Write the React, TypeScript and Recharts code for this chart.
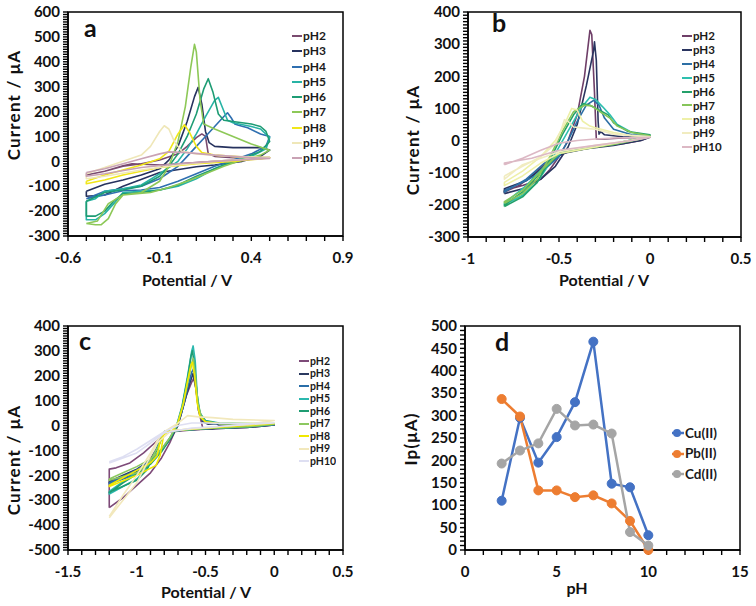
import React from 'react'
import { LineChart, Line, XAxis, YAxis, ReferenceArea, Legend } from 'recharts'

type Pt = [number, number]

// --- panel a (Cu(II)): [potential V, current uA], anodic sweep then return
const a_pH2: Pt[] = [[-0.5, -55], [-0.4, -40], [-0.3, -20], [-0.2, -10], [-0.1, 5], [0, 30], [0.05, 60], [0.1, 95], [0.13, 110], [0.15, 100], [0.165, 30], [0.2, 20], [0.3, 15], [0.4, 15], [0.5, 15], [0.45, 12], [0.3, 5], [0.1, -5], [-0.1, -15], [-0.25, -10], [-0.3, -18], [-0.4, -40], [-0.5, -55]]
const a_pH3: Pt[] = [[-0.5, -120], [-0.4, -92], [-0.3, -75], [-0.2, -55], [-0.1, -30], [-0.05, 5], [0, 60], [0.05, 160], [0.09, 260], [0.11, 297], [0.13, 230], [0.15, 120], [0.17, 75], [0.2, 60], [0.3, 55], [0.45, 55], [0.5, 45], [0.45, 20], [0.35, 0], [0.2, -15], [0.1, -22], [-0.1, -45], [-0.3, -100], [-0.4, -135], [-0.5, -140], [-0.5, -120]]
const a_pH4: Pt[] = [[-0.5, -150], [-0.4, -120], [-0.3, -110], [-0.2, -100], [-0.1, -70], [0, -20], [0.05, 20], [0.1, 60], [0.15, 100], [0.2, 140], [0.25, 180], [0.27, 195], [0.29, 175], [0.31, 150], [0.33, 145], [0.38, 135], [0.45, 110], [0.5, 100], [0.48, 60], [0.4, 30], [0.3, 5], [0.2, -20], [0.1, -50], [0, -80], [-0.1, -105], [-0.2, -115], [-0.3, -118], [-0.4, -135], [-0.5, -150]]
const a_pH5: Pt[] = [[-0.5, -160], [-0.45, -150], [-0.4, -120], [-0.3, -110], [-0.2, -95], [-0.1, -50], [0, 0], [0.05, 50], [0.1, 110], [0.15, 180], [0.2, 245], [0.22, 257], [0.24, 220], [0.27, 165], [0.3, 155], [0.4, 140], [0.45, 130], [0.5, 95], [0.48, 50], [0.4, 20], [0.3, 0], [0.2, -30], [0.1, -70], [0, -100], [-0.1, -115], [-0.2, -120], [-0.3, -125], [-0.35, -170], [-0.4, -210], [-0.45, -235], [-0.5, -235], [-0.5, -160]]
const a_pH6: Pt[] = [[-0.5, -160], [-0.4, -125], [-0.3, -115], [-0.2, -100], [-0.1, -60], [-0.05, -20], [0, 30], [0.05, 100], [0.1, 190], [0.14, 290], [0.165, 332], [0.19, 280], [0.22, 190], [0.25, 165], [0.3, 160], [0.4, 150], [0.45, 140], [0.48, 120], [0.5, 80], [0.45, 40], [0.35, 10], [0.25, -15], [0.1, -60], [0, -95], [-0.1, -115], [-0.2, -125], [-0.3, -130], [-0.35, -160], [-0.4, -200], [-0.45, -220], [-0.5, -220], [-0.5, -160]]
const a_pH7: Pt[] = [[-0.5, -250], [-0.45, -255], [-0.42, -255], [-0.38, -230], [-0.34, -170], [-0.3, -135], [-0.2, -125], [-0.1, -80], [-0.05, -20], [0, 80], [0.04, 220], [0.07, 380], [0.09, 470], [0.1, 440], [0.12, 250], [0.14, 150], [0.2, 130], [0.3, 100], [0.4, 70], [0.5, 45], [0.45, 25], [0.35, 5], [0.25, -20], [0.15, -50], [0.05, -80], [-0.05, -105], [-0.15, -125], [-0.3, -135], [-0.38, -170], [-0.44, -240], [-0.5, -250]]
const a_pH8: Pt[] = [[-0.5, -80], [-0.4, -55], [-0.3, -35], [-0.2, -15], [-0.1, 10], [-0.05, 40], [0, 110], [0.035, 147], [0.06, 120], [0.1, 60], [0.13, 35], [0.2, 25], [0.3, 20], [0.4, 15], [0.5, 15], [0.45, 10], [0.3, 0], [0.1, -10], [-0.1, -25], [-0.3, -55], [-0.4, -75], [-0.5, -90], [-0.5, -80]]
const a_pH9: Pt[] = [[-0.5, -50], [-0.4, -25], [-0.3, 0], [-0.2, 25], [-0.15, 60], [-0.1, 120], [-0.075, 143], [-0.05, 130], [-0.02, 80], [0.02, 40], [0.1, 30], [0.2, 25], [0.3, 20], [0.5, 15], [0.4, 10], [0.2, 0], [0, -15], [-0.2, -35], [-0.4, -60], [-0.5, -70], [-0.5, -50]]
const a_pH10: Pt[] = [[-0.5, -45], [-0.4, -30], [-0.3, -10], [-0.2, 10], [-0.1, 30], [-0.05, 38], [0.05, 35], [0.2, 25], [0.4, 15], [0.5, 12], [0.4, 8], [0.2, 0], [0, -10], [-0.2, -25], [-0.4, -50], [-0.5, -60], [-0.5, -45]]

// --- panel b (Pb(II))
const b_pH2: Pt[] = [[-0.8, -155], [-0.7, -140], [-0.6, -120], [-0.55, -90], [-0.5, -50], [-0.45, 0], [-0.4, 80], [-0.36, 200], [-0.33, 343], [-0.32, 330], [-0.305, 150], [-0.295, 5], [-0.25, 5], [-0.15, 8], [-0.05, 10], [0, 12], [-0.05, 0], [-0.15, -10], [-0.3, -20], [-0.45, -35], [-0.55, -60], [-0.65, -110], [-0.72, -140], [-0.8, -160], [-0.8, -155]]
const b_pH3: Pt[] = [[-0.8, -165], [-0.7, -150], [-0.6, -120], [-0.52, -80], [-0.45, -20], [-0.4, 50], [-0.35, 170], [-0.31, 280], [-0.305, 307], [-0.295, 250], [-0.285, 60], [-0.28, 20], [-0.27, 28], [-0.25, 18], [-0.15, 12], [-0.05, 10], [0, 10], [-0.05, 0], [-0.2, -15], [-0.35, -25], [-0.48, -40], [-0.58, -80], [-0.68, -125], [-0.8, -150], [-0.8, -165]]
const b_pH4: Pt[] = [[-0.8, -155], [-0.7, -130], [-0.6, -100], [-0.5, -50], [-0.45, 0], [-0.4, 60], [-0.35, 110], [-0.31, 125], [-0.28, 110], [-0.25, 70], [-0.2, 35], [-0.1, 18], [0, 15], [-0.05, 5], [-0.2, -12], [-0.35, -22], [-0.48, -35], [-0.58, -70], [-0.68, -120], [-0.8, -160], [-0.8, -155]]
const b_pH5: Pt[] = [[-0.8, -200], [-0.7, -170], [-0.62, -130], [-0.55, -70], [-0.48, 0], [-0.42, 60], [-0.38, 100], [-0.33, 135], [-0.3, 128], [-0.26, 105], [-0.22, 80], [-0.18, 50], [-0.1, 25], [0, 15], [-0.05, 8], [-0.2, -10], [-0.35, -22], [-0.48, -35], [-0.58, -80], [-0.68, -140], [-0.8, -195], [-0.8, -200]]
const b_pH6: Pt[] = [[-0.8, -205], [-0.7, -175], [-0.62, -130], [-0.55, -60], [-0.48, 20], [-0.42, 80], [-0.37, 115], [-0.33, 110], [-0.28, 95], [-0.23, 80], [-0.2, 55], [-0.12, 28], [0, 18], [-0.05, 8], [-0.2, -10], [-0.35, -22], [-0.5, -40], [-0.6, -100], [-0.7, -160], [-0.8, -200], [-0.8, -205]]
const b_pH7: Pt[] = [[-0.8, -195], [-0.7, -165], [-0.62, -120], [-0.55, -50], [-0.48, 30], [-0.42, 90], [-0.36, 110], [-0.32, 108], [-0.27, 88], [-0.22, 70], [-0.18, 45], [-0.1, 25], [0, 15], [-0.05, 5], [-0.2, -12], [-0.35, -25], [-0.5, -40], [-0.6, -95], [-0.7, -155], [-0.8, -190], [-0.8, -195]]
const b_pH8: Pt[] = [[-0.8, -130], [-0.7, -95], [-0.6, -50], [-0.52, 0], [-0.47, 50], [-0.43, 100], [-0.4, 95], [-0.37, 60], [-0.33, 45], [-0.3, 40], [-0.2, 25], [-0.1, 15], [0, 12], [-0.1, 2], [-0.3, -20], [-0.5, -40], [-0.6, -70], [-0.7, -110], [-0.8, -140], [-0.8, -130]]
const b_pH9: Pt[] = [[-0.8, -110], [-0.7, -80], [-0.6, -50], [-0.52, -10], [-0.49, 30], [-0.47, 65], [-0.45, 60], [-0.42, 42], [-0.35, 38], [-0.3, 35], [-0.2, 20], [0, 12], [-0.1, 0], [-0.3, -15], [-0.5, -35], [-0.6, -55], [-0.7, -75], [-0.8, -120], [-0.8, -110]]
const b_pH10: Pt[] = [[-0.8, -75], [-0.7, -55], [-0.6, -30], [-0.5, -8], [-0.4, 0], [-0.3, 5], [-0.2, 8], [0, 10], [-0.1, 0], [-0.3, -15], [-0.5, -30], [-0.65, -55], [-0.8, -70], [-0.8, -75]]

// --- panel c (Cd(II))
const c_pH2: Pt[] = [[-1.2, -330], [-1.1, -290], [-1.0, -240], [-0.9, -190], [-0.82, -130], [-0.76, -70], [-0.72, -20], [-0.68, 40], [-0.64, 120], [-0.6, 175], [-0.585, 190], [-0.57, 150], [-0.55, 60], [-0.52, -10], [-0.47, -15], [-0.45, -15], [-0.35, -5], [-0.2, -3], [0, 2], [-0.2, -8], [-0.4, -12], [-0.6, -18], [-0.8, -28], [-0.85, -60], [-0.95, -110], [-1.05, -150], [-1.15, -170], [-1.2, -175], [-1.2, -330]]
const c_pH3: Pt[] = [[-1.2, -225], [-1.1, -200], [-1.0, -175], [-0.9, -140], [-0.82, -100], [-0.75, -50], [-0.7, 0], [-0.66, 80], [-0.62, 160], [-0.59, 210], [-0.57, 150], [-0.55, 60], [-0.52, 15], [-0.48, 5], [-0.42, 8], [-0.4, 0], [-0.2, 0], [0, 2], [-0.2, -8], [-0.5, -14], [-0.7, -20], [-0.8, -25], [-0.85, -90], [-0.95, -170], [-1.05, -200], [-1.2, -230], [-1.2, -225]]
const c_pH4: Pt[] = [[-1.2, -230], [-1.1, -205], [-1.0, -178], [-0.9, -140], [-0.82, -95], [-0.76, -50], [-0.71, -5], [-0.67, 60], [-0.63, 150], [-0.6, 215], [-0.585, 230], [-0.57, 170], [-0.55, 70], [-0.52, 20], [-0.45, 8], [-0.3, 5], [0, 3], [-0.2, -6], [-0.5, -13], [-0.7, -20], [-0.8, -24], [-0.84, -70], [-0.9, -150], [-1.0, -195], [-1.2, -235], [-1.2, -230]]
const c_pH5: Pt[] = [[-1.2, -265], [-1.1, -225], [-1.0, -190], [-0.9, -150], [-0.82, -100], [-0.75, -45], [-0.71, 0], [-0.67, 80], [-0.63, 200], [-0.6, 300], [-0.59, 320], [-0.575, 260], [-0.56, 120], [-0.54, 50], [-0.5, 20], [-0.4, 10], [0, 5], [-0.2, -5], [-0.5, -12], [-0.7, -20], [-0.8, -24], [-0.85, -90], [-0.92, -170], [-1.0, -215], [-1.2, -275], [-1.2, -265]]
const c_pH6: Pt[] = [[-1.2, -270], [-1.1, -230], [-1.0, -195], [-0.9, -155], [-0.82, -105], [-0.76, -55], [-0.71, -5], [-0.67, 75], [-0.63, 190], [-0.605, 280], [-0.595, 300], [-0.58, 240], [-0.56, 110], [-0.54, 45], [-0.5, 18], [-0.4, 8], [0, 5], [-0.2, -6], [-0.5, -12], [-0.7, -20], [-0.8, -25], [-0.85, -95], [-0.93, -180], [-1.0, -220], [-1.2, -268], [-1.2, -270]]
const c_pH7: Pt[] = [[-1.2, -215], [-1.1, -190], [-1.0, -165], [-0.9, -135], [-0.82, -95], [-0.76, -50], [-0.71, 0], [-0.67, 70], [-0.63, 170], [-0.6, 250], [-0.59, 270], [-0.575, 210], [-0.555, 90], [-0.53, 35], [-0.5, 15], [-0.4, 8], [0, 5], [-0.2, -5], [-0.5, -12], [-0.7, -20], [-0.8, -24], [-0.84, -80], [-0.92, -160], [-1.0, -190], [-1.2, -220], [-1.2, -215]]
const c_pH8: Pt[] = [[-1.2, -240], [-1.1, -210], [-1.0, -180], [-0.9, -150], [-0.85, -120], [-0.83, -60], [-0.8, -35], [-0.74, -20], [-0.7, 10], [-0.66, 90], [-0.63, 180], [-0.605, 245], [-0.595, 255], [-0.58, 200], [-0.56, 90], [-0.54, 35], [-0.5, 15], [-0.4, 8], [0, 8], [-0.2, 0], [-0.5, -10], [-0.7, -18], [-0.8, -25], [-0.83, -120], [-0.86, -160], [-1.0, -200], [-1.2, -245], [-1.2, -240]]
const c_pH9: Pt[] = [[-1.2, -365], [-1.1, -280], [-1.0, -200], [-0.9, -110], [-0.85, -60], [-0.8, -25], [-0.7, 10], [-0.63, 40], [-0.55, 35], [-0.45, 32], [-0.3, 25], [0, 20], [-0.2, 5], [-0.5, -10], [-0.75, -20], [-0.85, -70], [-1.0, -230], [-1.2, -370]]
const c_pH10: Pt[] = [[-1.2, -145], [-1.1, -125], [-1.0, -95], [-0.9, -60], [-0.8, -25], [-0.7, 0], [-0.6, 10], [-0.5, 10], [-0.3, 8], [0, 10], [-0.3, 0], [-0.6, -10], [-0.8, -30], [-0.9, -70], [-1.0, -110], [-1.2, -150]]

// --- panel d: peak current vs pH
const phValues = [2, 3, 4, 5, 6, 7, 8, 9, 10]
const cuIp = [110, 295, 195, 252, 330, 465, 148, 140, 33]
const pbIp = [337, 298, 133, 133, 118, 122, 104, 65, 0]
const cdIp = [193, 222, 238, 315, 278, 280, 260, 40, 10]

const phNames = ['pH2', 'pH3', 'pH4', 'pH5', 'pH6', 'pH7', 'pH8', 'pH9', 'pH10']
const colorsA = ['#7a4b6f', '#26325e', '#2f6fb0', '#27b3a5', '#1e9c74', '#8dc857', '#f0e61a', '#efe7b8', '#c9a2b4']
const colorsB = ['#6f3f68', '#2a3560', '#2c6fa5', '#2ebfae', '#24a06a', '#86c55a', '#eef0a8', '#f1ecc0', '#dcb8c4']
const colorsC = ['#7d4a78', '#2b3a60', '#2a6ea8', '#2bb8ae', '#1f9c72', '#8cc860', '#f0e800', '#f2e8bc', '#dedff2']

const aX = [-0.6, -0.1, 0.4, 0.9]
const aXLabels = ['-0.6', '-0.1', '0.4', '0.9']
const aY = [-300, -200, -100, 0, 100, 200, 300, 400, 500, 600]
const bX = [-1, -0.5, 0, 0.5]
const bXLabels = ['-1', '-0.5', '0', '0.5']
const bY = [-300, -200, -100, 0, 100, 200, 300, 400]
const cX = [-1.5, -1, -0.5, 0, 0.5]
const cXLabels = ['-1.5', '-1', '-0.5', '0', '0.5']
const cY = [-500, -400, -300, -200, -100, 0, 100, 200, 300, 400]
const dX = [0, 5, 10, 15]
const dY = [0, 50, 100, 150, 200, 250, 300, 350, 400, 450, 500]

const FONT = 'Lato, "Open Sans", sans-serif'
const W = 378
const H = 303
const TICK = 5
const GAP = 2

function steps(lo: number, hi: number, step: number) {
  const n = Math.round((hi - lo) / step)
  return Array.from({ length: n + 1 }, (_, k) => +(lo + k * step).toFixed(4))
}

const rows = (pts: Pt[]) => pts.map(([v, i]) => ({ v, i }))

// recharts draws the tick marks; this only writes labels on the major ones
function makeTick(axis: 'x' | 'y', majors: number[], labels: string[]) {
  return (p: any) => {
    const v = p.payload.value
    const k = majors.findIndex((m) => Math.abs(m - v) < 1e-6)
    if (k < 0) return <g />
    const style = { fontFamily: FONT, fontWeight: 700, fontSize: 15, fill: '#111' }
    if (axis === 'x') {
      return <text x={p.x} y={p.y + 20} textAnchor="middle" style={style}>{labels[k]}</text>
    }
    return <text x={p.x - 1} y={p.y} dy="0.35em" textAnchor="end" style={style}>{labels[k]}</text>
  }
}

type TextProps = { xt: string; xp: [number, number]; yt: string; yp: [number, number]; letter: string; lp: [number, number] }
function PanelText({ xt, xp, yt, yp, letter, lp }: TextProps) {
  const base = { fontFamily: FONT, fontWeight: 700, fill: '#111' }
  return (
    <g>
      <text x={xp[0]} y={xp[1]} textAnchor="middle" dy="0.35em" style={{ ...base, fontSize: 16 }}>{xt}</text>
      <text x={yp[0]} y={yp[1]} textAnchor="middle" dy="0.35em" transform={`rotate(-90 ${yp[0]} ${yp[1]})`} style={{ ...base, fontSize: 17, letterSpacing: 1.2 }}>{yt}</text>
      <text x={lp[0]} y={lp[1]} style={{ ...base, fontSize: 25 }}>{letter}</text>
    </g>
  )
}

function CvLegend({ colors, rowH, size }: { colors: string[]; rowH: number; size: number }) {
  return (
    <div style={{ fontFamily: FONT, fontWeight: 700, fontSize: size, lineHeight: 1, color: '#1a1a1a' }}>
      {phNames.map((n, k) => (
        <div key={n} style={{ height: rowH, display: 'flex', alignItems: 'center', overflow: 'hidden' }}>
          <svg width={10} height={4} style={{ marginRight: 1 }}>
            <line x1={0} y1={2} x2={10} y2={2} stroke={colors[k]} strokeWidth={2} />
          </svg>
          <span style={{ lineHeight: 1 }}>{n}</span>
        </div>
      ))}
    </div>
  )
}

type CvProps = {
  left: number
  top: number
  series: Pt[][]
  colors: string[]
  xDom: [number, number]
  yDom: [number, number]
  xMaj: number[]
  xLab: string[]
  yMaj: number[]
  plot: { l: number; r: number; t: number; b: number }
  legend: { x: number; y: number; rowH: number; size: number }
  text: TextProps
}

const axisLine = { stroke: '#000', strokeWidth: 1.5 }
const tickLine = { stroke: '#000', strokeWidth: 1.4 }

function CvPanel({ left, top, series, colors, xDom, yDom, xMaj, xLab, yMaj, plot, legend, text }: CvProps) {
  return (
    <div style={{ position: 'absolute', left, top }}>
      <LineChart width={W} height={H} margin={{ top: plot.t, right: W - plot.r, bottom: H - plot.b - 30, left: 0 }}>
        <XAxis
          dataKey="v"
          type="number"
          domain={xDom}
          ticks={steps(xDom[0], xDom[1], 0.1)}
          interval={0}
          allowDataOverflow
          height={30}
          stroke="#000"
          tickSize={TICK}
          tickMargin={GAP}
          tickLine={tickLine}
          axisLine={axisLine}
          tick={makeTick('x', xMaj, xLab)}
          label={<PanelText {...text} />}
        />
        <YAxis
          dataKey="i"
          type="number"
          domain={yDom}
          ticks={steps(yDom[0], yDom[1], 10)}
          interval={0}
          allowDataOverflow
          width={plot.l}
          stroke="#000"
          tickSize={TICK}
          tickMargin={GAP}
          tickLine={tickLine}
          axisLine={axisLine}
          tick={makeTick('y', yMaj, yMaj.map(String))}
        />
        <ReferenceArea x1={xDom[0]} x2={xDom[1]} y1={yDom[0]} y2={yDom[1]} fill="none" stroke="#000" strokeWidth={1.5} />
        {series.map((s, k) => (
          <Line
            key={phNames[k]}
            name={phNames[k]}
            data={rows(s)}
            dataKey="i"
            type="linear"
            dot={false}
            stroke={colors[k]}
            strokeWidth={1.6}
            strokeLinejoin="round"
            isAnimationActive={false}
          />
        ))}
        <Legend
          layout="vertical"
          align="center"
          verticalAlign="middle"
          wrapperStyle={{ left: legend.x, top: legend.y - legend.rowH / 2, width: 'auto', height: 'auto' }}
          content={() => <CvLegend colors={colors} rowH={legend.rowH} size={legend.size} />}
        />
      </LineChart>
    </div>
  )
}

const dRows = phValues.map((ph, k) => ({ ph, cu: cuIp[k], pb: pbIp[k], cd: cdIp[k] }))
const dSeries = [
  { key: 'cu', name: 'Cu(II)', color: '#4472c4' },
  { key: 'pb', name: 'Pb(II)', color: '#ed7d31' },
  { key: 'cd', name: 'Cd(II)', color: '#a5a5a5' },
]

function PhPanel() {
  const plot = { l: 87, r: 362, t: 23, b: 247 }
  return (
    <div style={{ position: 'absolute', left: 378, top: 303 }}>
      <LineChart width={W} height={H} data={dRows} margin={{ top: plot.t, right: W - plot.r, bottom: H - plot.b - 30, left: 0 }}>
        <XAxis
          dataKey="ph"
          type="number"
          domain={[0, 15]}
          ticks={steps(0, 15, 1)}
          interval={0}
          height={30}
          stroke="#000"
          tickSize={TICK}
          tickMargin={GAP}
          tickLine={tickLine}
          axisLine={axisLine}
          tick={makeTick('x', dX, dX.map(String))}
          label={<PanelText xt="pH" xp={[199, 285]} yt="Ip(μA)" yp={[33, 136]} letter="d" lp={[117, 48]} />}
        />
        <YAxis
          type="number"
          domain={[0, 500]}
          ticks={steps(0, 500, 10)}
          interval={0}
          width={plot.l}
          stroke="#000"
          tickSize={TICK}
          tickMargin={GAP}
          tickLine={tickLine}
          axisLine={axisLine}
          tick={makeTick('y', dY, dY.map(String))}
        />
        <ReferenceArea x1={0} x2={15} y1={0} y2={500} fill="none" stroke="#000" strokeWidth={1.5} />
        {dSeries.map((s) => (
          <Line
            key={s.key}
            name={s.name}
            dataKey={s.key}
            type="linear"
            stroke={s.color}
            strokeWidth={2.5}
            dot={{ r: 4.5, fill: s.color, stroke: s.color, strokeWidth: 1 }}
            isAnimationActive={false}
          />
        ))}
        <Legend
          layout="vertical"
          align="center"
          verticalAlign="middle"
          wrapperStyle={{ left: 294, top: 120, width: 'auto', height: 'auto' }}
          content={() => (
            <div style={{ fontFamily: FONT, fontWeight: 700, fontSize: 13.5, color: '#1a1a1a' }}>
              {dSeries.map((s) => (
                <div key={s.key} style={{ height: 20.5, display: 'flex', alignItems: 'center' }}>
                  <svg width={12} height={10} style={{ marginRight: 1 }}>
                    <line x1={0} y1={5} x2={12} y2={5} stroke={s.color} strokeWidth={2.5} />
                    <circle cx={5} cy={5} r={4} fill={s.color} />
                  </svg>
                  <span style={{ lineHeight: 1 }}>{s.name}</span>
                </div>
              ))}
            </div>
          )}
        />
      </LineChart>
    </div>
  )
}

export default function App() {
  return (
    <div style={{ position: 'absolute', left: 0, top: 0, width: 756, height: 606, background: '#fff' }}>
      <CvPanel
        left={0}
        top={0}
        series={[a_pH2, a_pH3, a_pH4, a_pH5, a_pH6, a_pH7, a_pH8, a_pH9, a_pH10]}
        colors={colorsA}
        xDom={[-0.6, 0.9]}
        yDom={[-300, 600]}
        xMaj={aX}
        xLab={aXLabels}
        yMaj={aY}
        plot={{ l: 68, r: 343, t: 12, b: 236 }}
        legend={{ x: 292, y: 36, rowH: 15.3, size: 12 }}
        text={{ xt: 'Potential / V', xp: [187, 280], yt: 'Current / μA', yp: [14, 105], letter: 'a', lp: [84, 37] }}
      />
      <CvPanel
        left={378}
        top={0}
        series={[b_pH2, b_pH3, b_pH4, b_pH5, b_pH6, b_pH7, b_pH8, b_pH9, b_pH10]}
        colors={colorsB}
        xDom={[-1, 0.5]}
        yDom={[-300, 400]}
        xMaj={bX}
        xLab={bXLabels}
        yMaj={bY}
        plot={{ l: 90, r: 363, t: 12, b: 237 }}
        legend={{ x: 304, y: 36, rowH: 13.9, size: 11.5 }}
        text={{ xt: 'Potential / V', xp: [226, 280], yt: 'Current / μA', yp: [35, 140], letter: 'b', lp: [114, 32] }}
      />
      <CvPanel
        left={0}
        top={303}
        series={[c_pH2, c_pH3, c_pH4, c_pH5, c_pH6, c_pH7, c_pH8, c_pH9, c_pH10]}
        colors={colorsC}
        xDom={[-1.5, 0.5]}
        yDom={[-500, 400]}
        xMaj={cX}
        xLab={cXLabels}
        yMaj={cY}
        plot={{ l: 68, r: 343, t: 23, b: 247 }}
        legend={{ x: 299, y: 58, rowH: 12.5, size: 10.5 }}
        text={{ xt: 'Potential / V', xp: [206, 289], yt: 'Current / μA', yp: [14, 157], letter: 'c', lp: [79, 47] }}
      />
      <PhPanel />
    </div>
  )
}
